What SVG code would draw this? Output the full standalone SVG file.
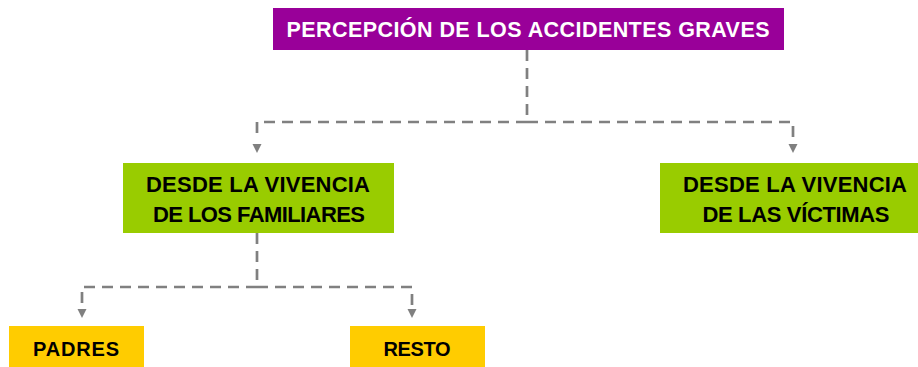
<svg xmlns="http://www.w3.org/2000/svg" width="918" height="367" viewBox="0 0 918 367">
<style>
.lbl{font-family:"Liberation Sans",Arial,sans-serif;font-weight:bold;text-anchor:middle}
.top{fill:#ffffff;font-size:21.5px}
.g{fill:#000000;font-size:22px}
.y{fill:#000000;font-size:20px}
.con{fill:none;stroke:#808080;stroke-width:2.7;stroke-dasharray:11 7}
</style>
<rect width="918" height="367" fill="#ffffff"/>
<g id="connectors">
<path class="con" d="M527,50 V122"/>
<path class="con" d="M527,122 H257 V140"/>
<path class="con" d="M527,122 H793 V140"/>
<path class="con" d="M257,233 V287"/>
<path class="con" d="M257,287 H82 V305"/>
<path class="con" d="M257,287 H412 V305"/>
<polygon points="252.5,144 261.5,144 257,153" fill="#808080"/>
<polygon points="788.5,144 797.5,144 793,153" fill="#808080"/>
<polygon points="77.5,309 86.5,309 82,318" fill="#808080"/>
<polygon points="407.5,309 416.5,309 412,318" fill="#808080"/>
</g>
<g id="n-top">
<rect x="273" y="8" width="511" height="42" fill="#990099"/>
<text class="lbl top" x="528" y="37" textLength="483" lengthAdjust="spacing">PERCEPCIÓN DE LOS ACCIDENTES GRAVES</text>
</g>
<g id="n-familiares">
<rect x="123" y="163" width="271" height="70" fill="#99cc00"/>
<text class="lbl g" x="258" y="192" textLength="224" lengthAdjust="spacing">DESDE LA VIVENCIA</text>
<text class="lbl g" x="259" y="222" textLength="212" lengthAdjust="spacing">DE LOS FAMILIARES</text>
</g>
<g id="n-victimas">
<rect x="660" y="163" width="258" height="70" fill="#99cc00"/>
<text class="lbl g" x="795" y="192" textLength="224" lengthAdjust="spacing">DESDE LA VIVENCIA</text>
<text class="lbl g" x="796" y="222" textLength="187" lengthAdjust="spacing">DE LAS VÍCTIMAS</text>
</g>
<g id="n-padres">
<rect x="9" y="326" width="135" height="41" fill="#ffcc00"/>
<text class="lbl y" x="76" y="356" textLength="86" lengthAdjust="spacing">PADRES</text>
</g>
<g id="n-resto">
<rect x="350" y="326" width="135" height="41" fill="#ffcc00"/>
<text class="lbl y" x="417" y="356" textLength="67" lengthAdjust="spacing">RESTO</text>
</g>
</svg>
